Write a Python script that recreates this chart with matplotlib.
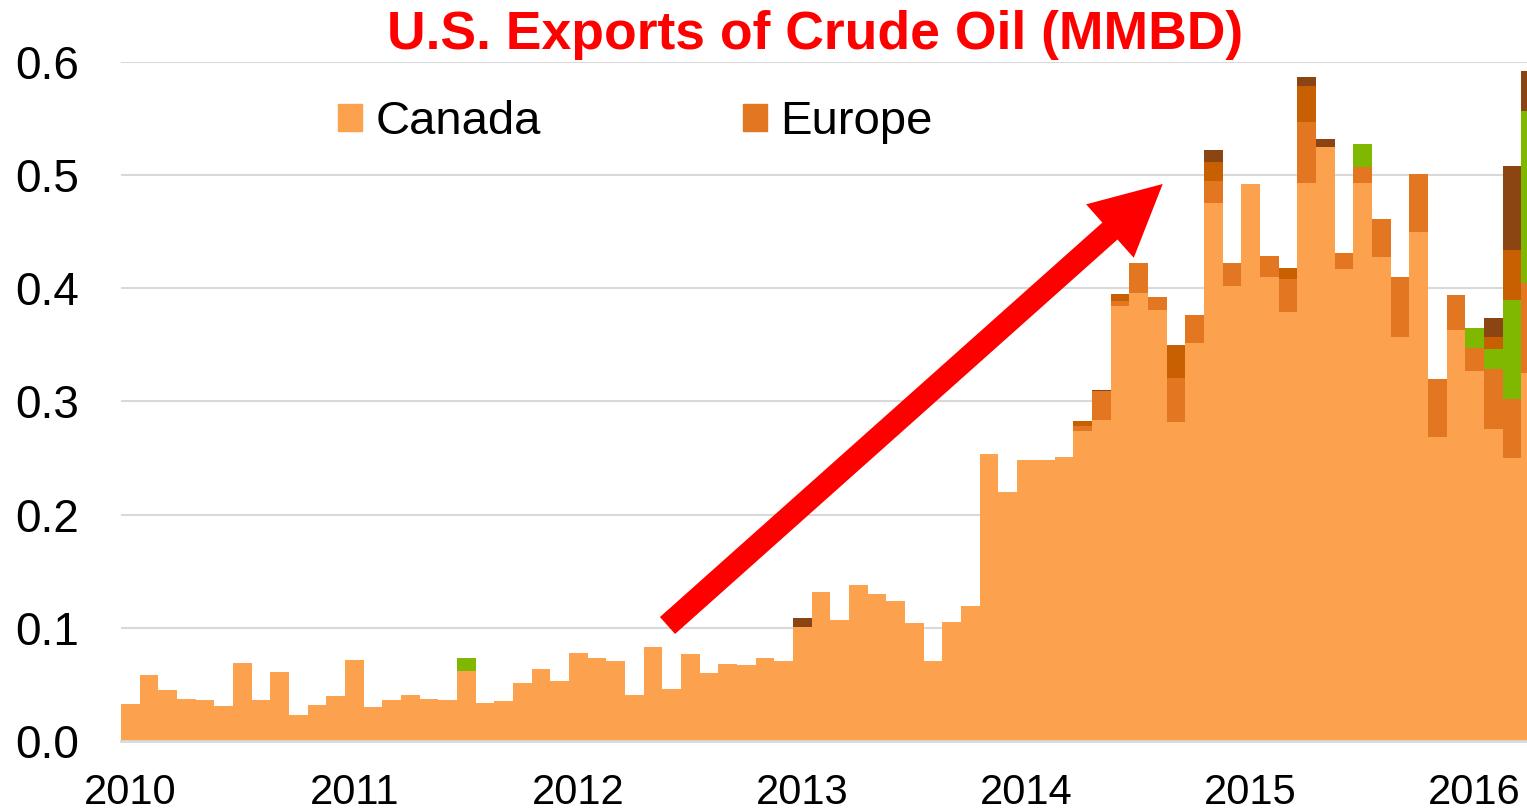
import numpy as np
import pandas as pd
import matplotlib
matplotlib.use("Agg")
import matplotlib.pyplot as plt
from matplotlib.patches import FancyArrow, Patch

plt.rcParams["font.family"] = ["Liberation Sans", "DejaVu Sans"]

# ─────────────────────────────────────────────
# Monthly data, Jan 2010 .. Apr 2016 (MMBD)
# ─────────────────────────────────────────────
months = pd.period_range("2010-01", "2016-04", freq="M").strftime("%Y-%m").tolist()

canada = [0.033, 0.058, 0.045, 0.037, 0.036, 0.031, 0.069, 0.036, 0.061, 0.023, 0.032, 0.040,
          0.072, 0.030, 0.036, 0.041, 0.037, 0.036, 0.062, 0.034, 0.035, 0.051, 0.064, 0.053,
          0.078, 0.073, 0.071, 0.041, 0.083, 0.046, 0.077, 0.060, 0.068, 0.067, 0.073, 0.071,
          0.101, 0.132, 0.107, 0.138, 0.130, 0.124, 0.104, 0.071, 0.105, 0.119, 0.254, 0.220,
          0.248, 0.248, 0.251, 0.274, 0.284, 0.384, 0.396, 0.381, 0.282, 0.352, 0.475, 0.402,
          0.492, 0.410, 0.379, 0.493, 0.525, 0.417, 0.493, 0.428, 0.357, 0.450, 0.269, 0.363,
          0.327, 0.276, 0.250, 0.325]

# other destinations only show up in a few months
europe = {"2014-04": 0.0045, "2014-05": 0.025, "2014-06": 0.005, "2014-07": 0.026,
          "2014-08": 0.011, "2014-09": 0.039, "2014-10": 0.0245, "2014-11": 0.020,
          "2014-12": 0.020, "2015-02": 0.0185, "2015-03": 0.029, "2015-04": 0.054,
          "2015-06": 0.0146, "2015-07": 0.0138, "2015-08": 0.033, "2015-09": 0.053,
          "2015-10": 0.051, "2015-11": 0.051, "2015-12": 0.031, "2016-01": 0.020,
          "2016-02": 0.053, "2016-03": 0.052, "2016-04": 0.080}
other_green = {"2011-07": 0.011, "2015-07": 0.021, "2016-01": 0.018, "2016-02": 0.017,
               "2016-03": 0.0875, "2016-04": 0.152}
other_dark = {"2014-04": 0.004, "2014-06": 0.0056, "2014-09": 0.029, "2014-11": 0.017,
              "2015-03": 0.010, "2015-04": 0.0316, "2016-02": 0.011, "2016-03": 0.044}
other_brown = {"2013-01": 0.008, "2014-05": 0.001, "2014-11": 0.0106, "2015-04": 0.0085,
               "2015-05": 0.0074, "2016-02": 0.0168, "2016-03": 0.075, "2016-04": 0.035}

years = ["2010", "2011", "2012", "2013", "2014", "2015", "2016"]

series = [
    ("Canada", canada, "#FCA24E"),
    ("Europe", [europe.get(m, 0.0) for m in months], "#E37620"),
    ("_green", [other_green.get(m, 0.0) for m in months], "#7FB800"),
    ("_dark", [other_dark.get(m, 0.0) for m in months], "#C85F00"),
    ("_brown", [other_brown.get(m, 0.0) for m in months], "#8B4513"),
]

W, H = 1527, 811
fig = plt.figure(figsize=(W / 100, H / 100), dpi=100)
ax = fig.add_axes([121 / W, (H - 741) / H, (W - 121) / W, (741 - 62) / H])

x = np.arange(len(months))
bottom = np.zeros(len(months))
for name, vals, col in series:
    vals = np.array(vals)
    ax.bar(x, vals, width=1.0, bottom=bottom, align="edge", color=col,
           linewidth=0, label=name)
    bottom += vals

ax.set_xlim(0, (W - 121) / 18.67)
ax.set_ylim(0, 0.6)
ax.set_yticks(np.arange(0, 0.61, 0.1))
ax.set_yticklabels([f"{v:.1f}" for v in np.arange(0, 0.61, 0.1)])
ax.set_xticks(np.arange(0, len(months), 12) + 0.5)
ax.set_xticklabels(years)
ax.tick_params(axis="y", length=0, pad=30, labelsize=33)
ax.tick_params(axis="x", length=0, pad=23, labelsize=30)

ax.yaxis.grid(True, color="#D9D9D9", linewidth=1.5)
ax.set_axisbelow(True)
for s in ["left", "right", "top"]:
    ax.spines[s].set_visible(False)
ax.spines["bottom"].set_color("#D9D9D9")
ax.spines["bottom"].set_linewidth(2)

# title
fig.text(815 / W, 1 - 49 / H, "U.S. Exports of Crude Oil (MMBD)", color="red",
         fontsize=38.5, fontweight="bold", ha="center", va="baseline")

# legend (only the two big destinations)
handles = [Patch(color="#FCA24E", label="Canada"), Patch(color="#E37620", label="Europe")]
fig.legend(handles=handles, loc="center left", bbox_to_anchor=(338 / W, 1 - 122 / H),
           ncol=2, frameon=False, fontsize=34, handlelength=0.51, handleheight=0.51,
           handletextpad=0.28, columnspacing=4.28, borderpad=0, borderaxespad=0)

# big red arrow
tail = (667.5 / 100, (H - 625.5) / 100)
tip = (1162.7 / 100, (H - 184) / 100)
arrow = FancyArrow(tail[0], tail[1], tip[0] - tail[0], tip[1] - tail[1],
                   width=0.227, head_width=0.716, head_length=0.707,
                   length_includes_head=True, color="red", linewidth=0,
                   transform=fig.dpi_scale_trans)
fig.add_artist(arrow)

fig.savefig("out.png", dpi=100)
